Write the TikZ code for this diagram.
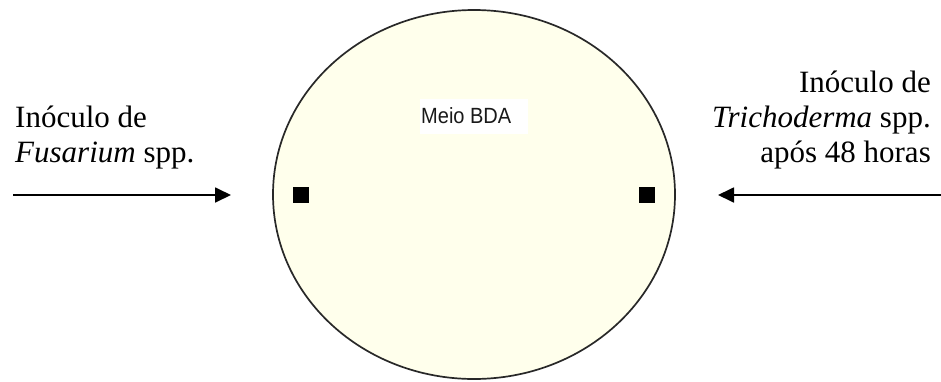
\documentclass[tikz,border=0pt]{standalone}
\usepackage{fontspec}
\setmainfont{Liberation Serif}
\newfontfamily\arialfont{Liberation Sans}
\usetikzlibrary{shapes.geometric,arrows.meta}
\definecolor{dishfill}{RGB}{255,255,236}
\definecolor{dishline}{RGB}{40,40,40}
\definecolor{labelgray}{RGB}{25,25,25}
\tikzset{
  lbl/.style={inner sep=0pt, font=\fontsize{31}{35}\selectfont},
  dish/.style={ellipse, draw=dishline, line width=1.7pt, fill=dishfill, inner sep=0pt},
  plug/.style={fill=black, draw=none, minimum size=16pt, inner sep=0pt},
  feed/.style={line width=1.8pt, -{Triangle[length=16pt, width=15pt]}},
}
\begin{document}
\begin{tikzpicture}[x=1pt, y=-1pt]
\useasboundingbox (0,0) rectangle (941,381);
% dish
\node[dish, minimum width=402pt, minimum height=369pt] (dish) at (474,194.5) {};
% medium label
\node[fill=white, minimum width=108pt, minimum height=35pt, inner sep=0pt, anchor=north west] (bdabox) at (420,99) {};
\node[inner sep=0pt, anchor=base west, text=labelgray, font=\arialfont\fontsize{22}{26}\selectfont] (bda) at (421,123) {\scalebox{0.91}[1]{Meio BDA}};
% plugs
\node[plug] (plugL) at (301,195) {};
\node[plug] (plugR) at (647,195) {};
% left labels
\node[lbl, anchor=base west] (l1) at (15,127) {Inóculo de};
\node[lbl, anchor=base west] (l2) at (15,162) {\textit{Fusarium} spp.};
% right labels
\node[lbl, anchor=base east] (r1) at (931,92) {Inóculo de};
\node[lbl, anchor=base east] (r2) at (931,127) {\textit{Trichoderma} spp.};
\node[lbl, anchor=base east] (r3) at (931,162) {após 48 horas};
% arrows
\coordinate (aLs) at (13,195);
\coordinate (aLe) at (231,195);
\coordinate (aRs) at (941,195);
\coordinate (aRe) at (718,195);
\draw[feed] (aLs) -- (aLe);
\draw[feed] (aRs) -- (aRe);
\end{tikzpicture}
\end{document}
